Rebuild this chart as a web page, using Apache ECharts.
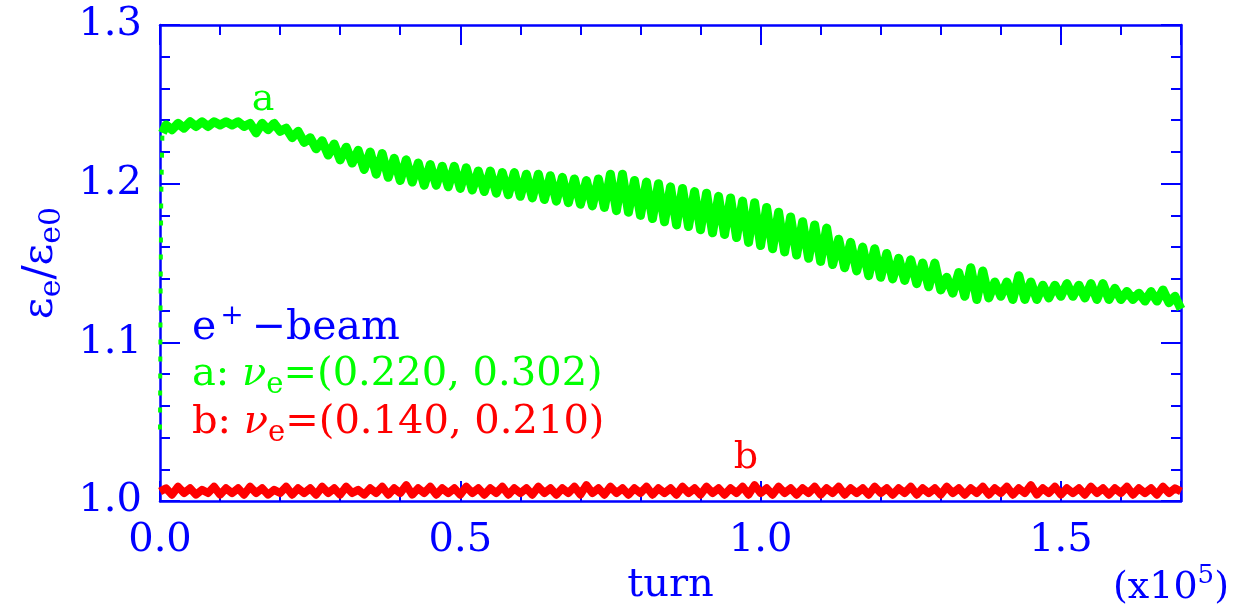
<!DOCTYPE html>
<html>
<head>
<meta charset="utf-8">
<script src="https://cdn.jsdelivr.net/npm/echarts@6/dist/echarts.min.js"></script>
<style>
  html, body { margin: 0; padding: 0; background: #fff; }
  #chart { width: 1257px; height: 615px; }
</style>
</head>
<body>
<div id="chart"></div>
<script>
// axis ranges (turn in units of 1e5)
const xRange = [0, 1.7];
const yRange = [1.0, 1.3];

// curve a: steep rise at the very start (sparse dots along the left axis)
const riseX = [0, 0.001, 0.002, 0.004];
const riseY = [1.045, 1.13, 1.19, 1.232];

// curve a: band, one value every 0.01 starting at x = 0.01
// (alternating upper / lower edge of the oscillation)
const greenStep = 0.01;
const greenY = [
  1.237, 1.234, 1.238, 1.235, 1.239, 1.236, 1.239, 1.236, 1.239, 1.237,
  1.239, 1.237, 1.239, 1.236, 1.238, 1.232, 1.238, 1.234, 1.238, 1.233,
  1.235, 1.229, 1.233, 1.226, 1.229, 1.222, 1.227, 1.218, 1.225, 1.215,
  1.223, 1.213, 1.221, 1.209, 1.220, 1.206, 1.219, 1.204, 1.216, 1.202,
  1.215, 1.201, 1.213, 1.199, 1.212, 1.199, 1.211, 1.198, 1.211, 1.197,
  1.210, 1.196, 1.208, 1.195, 1.208, 1.194, 1.207, 1.193, 1.207, 1.192,
  1.206, 1.191, 1.206, 1.190, 1.205, 1.189, 1.204, 1.188, 1.203, 1.187,
  1.202, 1.186, 1.203, 1.185, 1.206, 1.183, 1.206, 1.182, 1.202, 1.180,
  1.201, 1.178, 1.200, 1.176, 1.198, 1.174, 1.197, 1.173, 1.195, 1.171,
  1.194, 1.169, 1.192, 1.168, 1.191, 1.166, 1.189, 1.163, 1.188, 1.161,
  1.185, 1.159, 1.182, 1.157, 1.179, 1.155, 1.176, 1.153, 1.174, 1.151,
  1.172, 1.149, 1.165, 1.147, 1.163, 1.145, 1.160, 1.142, 1.159, 1.141,
  1.156, 1.140, 1.153, 1.139, 1.152, 1.137, 1.150, 1.135, 1.150, 1.133,
  1.141, 1.131, 1.144, 1.129, 1.147, 1.127, 1.145, 1.128, 1.138, 1.129,
  1.138, 1.127, 1.142, 1.127, 1.138, 1.127, 1.136, 1.128, 1.136, 1.129,
  1.137, 1.129, 1.136, 1.128, 1.137, 1.127, 1.137, 1.127, 1.134, 1.127,
  1.132, 1.127, 1.131, 1.126, 1.132, 1.126, 1.133, 1.125, 1.129, 1.121
];

// curve b: one value every 0.01 starting at x = 0
const redStep = 0.01;
const redY = [
  1.006, 1.008, 1.004, 1.009, 1.005, 1.008, 1.004, 1.007, 1.005, 1.009,
  1.004, 1.008, 1.005, 1.008, 1.004, 1.009, 1.005, 1.008, 1.004, 1.007,
  1.005, 1.009, 1.004, 1.008, 1.005, 1.008, 1.004, 1.009, 1.005, 1.008,
  1.004, 1.009, 1.005, 1.007, 1.004, 1.008, 1.005, 1.009, 1.004, 1.008,
  1.005, 1.010, 1.004, 1.008, 1.005, 1.009, 1.004, 1.008, 1.005, 1.008,
  1.004, 1.009, 1.005, 1.008, 1.004, 1.008, 1.005, 1.009, 1.004, 1.008,
  1.005, 1.008, 1.004, 1.009, 1.005, 1.008, 1.004, 1.008, 1.005, 1.009,
  1.004, 1.010, 1.005, 1.008, 1.004, 1.009, 1.005, 1.008, 1.004, 1.008,
  1.005, 1.009, 1.004, 1.008, 1.005, 1.008, 1.004, 1.009, 1.005, 1.008,
  1.004, 1.009, 1.005, 1.008, 1.004, 1.008, 1.005, 1.009, 1.004, 1.010,
  1.005, 1.008, 1.004, 1.009, 1.005, 1.008, 1.004, 1.008, 1.005, 1.009,
  1.004, 1.008, 1.005, 1.009, 1.004, 1.008, 1.005, 1.008, 1.004, 1.009,
  1.005, 1.008, 1.004, 1.008, 1.005, 1.009, 1.004, 1.008, 1.005, 1.008,
  1.004, 1.009, 1.005, 1.008, 1.004, 1.008, 1.005, 1.009, 1.004, 1.008,
  1.005, 1.009, 1.004, 1.008, 1.005, 1.010, 1.004, 1.008, 1.005, 1.009,
  1.004, 1.008, 1.005, 1.008, 1.004, 1.009, 1.005, 1.008, 1.004, 1.008,
  1.005, 1.009, 1.004, 1.008, 1.005, 1.008, 1.004, 1.009, 1.005, 1.008,
  1.006
];

const BLUE = '#0000ff';
const GREEN = '#00ff00';
const RED = '#ff0000';
const FONT = '"DejaVu Serif", "Liberation Serif", serif';

// build [x, y] pairs
const riseData = riseX.map((x, i) => [x, riseY[i]]);
const greenData = [riseData[riseData.length - 1]];
greenY.forEach((v, i) => greenData.push([+((i + 1) * greenStep).toFixed(2), v]));
const redData = redY.map((v, i) => [+(i * redStep).toFixed(2), v]);

const chart = echarts.init(document.getElementById('chart'), null, { renderer: 'canvas' });

// ticks point inward
function tickCfg(len) {
  return { show: true, inside: true, length: len, lineStyle: { color: BLUE, width: 2 } };
}

const xBase = {
  type: 'value',
  min: xRange[0],
  max: xRange[1],
  interval: 0.5,
  axisLine: { show: true, onZero: false, lineStyle: { color: BLUE, width: 2.5 } },
  axisTick: tickCfg(20),
  minorTick: { show: true, splitNumber: 5, length: 10, lineStyle: { color: BLUE, width: 2 } },
  splitLine: { show: false },
  minorSplitLine: { show: false }
};
const yBase = {
  type: 'value',
  min: yRange[0],
  max: yRange[1],
  interval: 0.1,
  axisLine: { show: true, onZero: false, lineStyle: { color: BLUE, width: 2.5 } },
  axisTick: tickCfg(20),
  minorTick: { show: true, splitNumber: 5, length: 10, lineStyle: { color: BLUE, width: 2 } },
  splitLine: { show: false },
  minorSplitLine: { show: false }
};

const option = {
  backgroundColor: '#ffffff',
  animation: false,
  grid: { left: 160, right: 76, top: 25, bottom: 114 },
  xAxis: [
    Object.assign({}, xBase, {
      position: 'bottom',
      name: 'turn',
      nameLocation: 'middle',
      nameGap: 60,
      nameTextStyle: { color: BLUE, fontFamily: FONT, fontSize: 40 },
      axisLabel: {
        color: BLUE, fontFamily: FONT, fontSize: 40, margin: 20,
        showMaxLabel: false,
        formatter: v => v.toFixed(1)
      }
    }),
    Object.assign({}, xBase, { position: 'top', axisLabel: { show: false } })
  ],
  yAxis: [
    Object.assign({}, yBase, {
      position: 'left',
      name: '{m|ε}{s|e}{m|/ε}{s|e0}',
      nameLocation: 'middle',
      nameRotate: 90,
      nameGap: 90,
      nameTextStyle: {
        color: BLUE,
        rich: {
          m: { color: BLUE, fontFamily: FONT, fontSize: 42, lineHeight: 52, verticalAlign: 'middle' },
          s: { color: BLUE, fontFamily: FONT, fontSize: 30, lineHeight: 22, verticalAlign: 'bottom' }
        }
      },
      axisLabel: {
        color: BLUE, fontFamily: FONT, fontSize: 40, margin: 18,
        formatter: v => v.toFixed(1)
      }
    }),
    Object.assign({}, yBase, { position: 'right', axisLabel: { show: false } })
  ],
  series: [
    {
      name: 'b',
      type: 'line',
      data: redData,
      showSymbol: false,
      lineStyle: { color: RED, width: 8, join: 'round' },
      z: 2
    },
    {
      name: 'a-rise',
      type: 'line',
      data: riseData,
      showSymbol: false,
      lineStyle: { color: GREEN, width: 4, type: [5, 12] },
      z: 3
    },
    {
      name: 'a',
      type: 'line',
      data: greenData,
      showSymbol: false,
      lineStyle: { color: GREEN, width: 9, join: 'round' },
      z: 3
    }
  ],
  graphic: [
    {
      type: 'text', x: 192, y: 328,
      style: {
        text: '{m|e}{sup|+}{m|−beam}',
        verticalAlign: 'middle',
        rich: {
          m: { fill: BLUE, fontFamily: FONT, fontSize: 41, lineHeight: 50, verticalAlign: 'middle' },
          sup: { fill: BLUE, fontFamily: FONT, fontSize: 28, lineHeight: 22, verticalAlign: 'top', padding: [0, 8, 8, 4] }
        }
      }
    },
    {
      type: 'text', x: 192, y: 375,
      style: {
        text: '{m|a: }{nu|ν}{s|e}{m|=(0.220, 0.302)}',
        verticalAlign: 'middle',
        rich: {
          m: { fill: GREEN, fontFamily: FONT, fontSize: 40, lineHeight: 50, verticalAlign: 'middle' },
          nu: { fill: GREEN, fontFamily: FONT, fontSize: 40, fontStyle: 'italic', lineHeight: 50, verticalAlign: 'middle' },
          s: { fill: GREEN, fontFamily: FONT, fontSize: 29, lineHeight: 22, verticalAlign: 'bottom' }
        }
      }
    },
    {
      type: 'text', x: 192, y: 423,
      style: {
        text: '{m|b: }{nu|ν}{s|e}{m|=(0.140, 0.210)}',
        verticalAlign: 'middle',
        rich: {
          m: { fill: RED, fontFamily: FONT, fontSize: 40, lineHeight: 50, verticalAlign: 'middle' },
          nu: { fill: RED, fontFamily: FONT, fontSize: 40, fontStyle: 'italic', lineHeight: 50, verticalAlign: 'middle' },
          s: { fill: RED, fontFamily: FONT, fontSize: 29, lineHeight: 22, verticalAlign: 'bottom' }
        }
      }
    },
    {
      type: 'text', x: 263, y: 100,
      style: { text: 'a', fill: GREEN, font: '38px ' + FONT, align: 'center', verticalAlign: 'middle' }
    },
    {
      type: 'text', x: 746, y: 458,
      style: { text: 'b', fill: RED, font: '38px ' + FONT, align: 'center', verticalAlign: 'middle' }
    },
    {
      type: 'text', x: 1113, y: 588,
      style: {
        text: '{m|(x10}{sup|5}{m|)}',
        verticalAlign: 'middle',
        rich: {
          m: { fill: BLUE, fontFamily: FONT, fontSize: 38, lineHeight: 50, verticalAlign: 'middle' },
          sup: { fill: BLUE, fontFamily: FONT, fontSize: 26, lineHeight: 22, verticalAlign: 'top', padding: [0, 0, 6, 0] }
        }
      }
    }
  ]
};

chart.setOption(option);
</script>
</body>
</html>
